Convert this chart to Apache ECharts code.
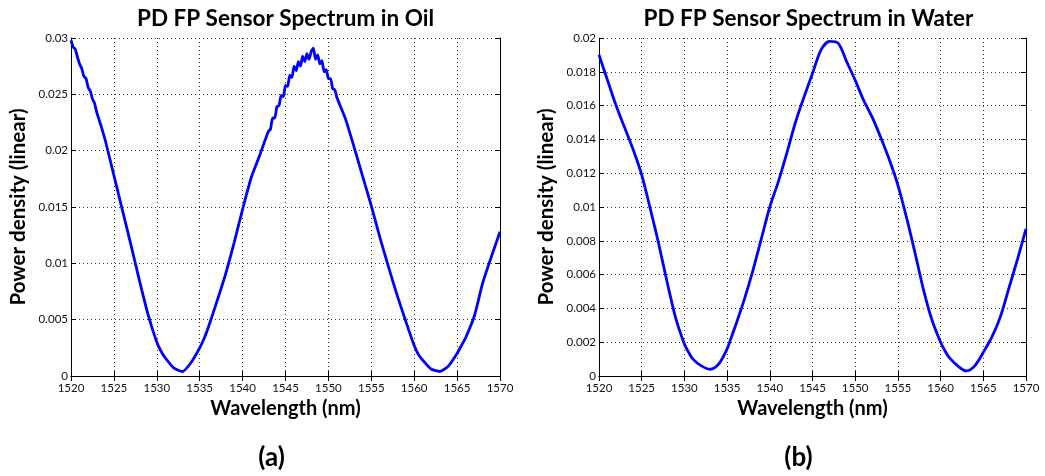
<!DOCTYPE html>
<html>
<head>
<meta charset="utf-8">
<script src="https://cdn.jsdelivr.net/npm/echarts@6.0.0/dist/echarts.min.js"></script>
<style>
html,body{margin:0;padding:0;background:#fff;}
#chart{width:1045px;height:476px;}
</style>
</head>
<body>
<div id="chart"></div>
<script>
// ---- Data ----
const titles = ["PD FP Sensor Spectrum in Oil", "PD FP Sensor Spectrum in Water"];
const panelLabels = ["(a)", "(b)"];
const xAxisName = "Wavelength (nm)";
const yAxisName = "Power density (linear)";

const xTicks = [1520, 1525, 1530, 1535, 1540, 1545, 1550, 1555, 1560, 1565, 1570];
const oilYTicks = [0, 0.005, 0.01, 0.015, 0.02, 0.025, 0.03];
const waterYTicks = [0, 0.002, 0.004, 0.006, 0.008, 0.01, 0.012, 0.014, 0.016, 0.018, 0.02];

const oilWavelength = [
  1520, 1520.25, 1520.5, 1520.75, 1521, 1521.25, 1521.5, 1521.75, 1522, 1522.25, 1522.5, 1522.75, 1523, 1523.5,
  1524, 1525, 1526, 1527, 1528, 1529, 1530, 1530.5, 1531, 1532, 1533, 1534, 1535, 1535.5, 1536,
  1537, 1538, 1539, 1540, 1541, 1542,
  1543, 1543.25, 1543.5, 1543.75, 1544, 1544.25, 1544.5, 1544.75, 1545, 1545.25, 1545.5, 1545.75,
  1546, 1546.25, 1546.5, 1546.75, 1547, 1547.25, 1547.5, 1547.75, 1548, 1548.25, 1548.5, 1548.75,
  1549, 1549.25, 1549.5, 1549.75, 1550, 1550.25, 1550.5, 1550.75, 1551,
  1552, 1553, 1554, 1555, 1556, 1557, 1558, 1559, 1560, 1560.5, 1561, 1562, 1563, 1564, 1565, 1565.5,
  1566, 1567, 1568, 1569, 1570
];
const oilPower = [
  0.0298, 0.0292, 0.0290, 0.0283, 0.0277, 0.0273, 0.0266, 0.0264, 0.0256, 0.0253, 0.0246, 0.0242, 0.0234, 0.0222,
  0.0209, 0.0178, 0.0147, 0.0116, 0.0084, 0.0054, 0.0030, 0.0022, 0.0016, 0.0007, 0.0004, 0.0012, 0.0025, 0.0033, 0.0043,
  0.0066, 0.0090, 0.0118, 0.0148, 0.0176, 0.0196,
  0.0217, 0.0219, 0.0229, 0.0229, 0.0239, 0.0240, 0.0249, 0.0248, 0.0258, 0.0257, 0.0267, 0.0265,
  0.0275, 0.0271, 0.0279, 0.0275, 0.0284, 0.0279, 0.0286, 0.0281, 0.0288, 0.0291, 0.0281, 0.0285,
  0.0277, 0.0280, 0.0270, 0.0272, 0.0264, 0.0264, 0.0255, 0.0254, 0.0247,
  0.0228, 0.0203, 0.0177, 0.0151, 0.0123, 0.0097, 0.0072, 0.0049, 0.0027, 0.0019, 0.0014, 0.0006, 0.0004, 0.0009, 0.0020, 0.0027,
  0.0034, 0.0053, 0.0083, 0.0106, 0.0128
];

const waterWavelength = [
  1520, 1521, 1522, 1523, 1524, 1525, 1526, 1527, 1528, 1529, 1530, 1530.5, 1531, 1532, 1533, 1534, 1535, 1535.5,
  1536, 1537, 1538, 1539, 1540, 1541, 1542, 1543, 1544, 1545, 1546, 1547, 1548, 1549, 1550, 1551, 1552,
  1553, 1554, 1555, 1556, 1557, 1558, 1559, 1560, 1560.5, 1561, 1562, 1563, 1564, 1565, 1566, 1567, 1568,
  1569, 1570
];
const waterPower = [
  0.0190, 0.0175, 0.0160, 0.0147, 0.0134, 0.0119, 0.0099, 0.0078, 0.0055, 0.0034, 0.0019, 0.0014, 0.0010, 0.0006, 0.0004, 0.0007, 0.0016, 0.0023,
  0.0030, 0.0045, 0.0062, 0.0081, 0.0100, 0.0115, 0.0132, 0.0150, 0.0165, 0.0179, 0.0193, 0.0198, 0.0197, 0.0186, 0.0175, 0.0163, 0.0153,
  0.0141, 0.0128, 0.0113, 0.0094, 0.0073, 0.0051, 0.0033, 0.0020, 0.0015, 0.0011, 0.0006, 0.0003, 0.0006, 0.0014, 0.0023, 0.0035, 0.0052,
  0.0069, 0.0087
];

// ---- Chart construction ----
const FONT = "Lato";
const chart = echarts.init(document.getElementById('chart'), null, {renderer: 'canvas'});

const grids = [
  {left: 71, top: 38, width: 429, height: 338},
  {left: 599, top: 38, width: 427, height: 338}
];
const yTickSets = [oilYTicks, waterYTicks];

function fmt(v) { return String(Number(v.toFixed(6))); }

const xAxes = [], yAxes = [];
grids.forEach((g, i) => {
  const xmin = xTicks[0], xmax = xTicks[xTicks.length - 1], xint = xTicks[1] - xTicks[0];
  const yt = yTickSets[i];
  const ymin = yt[0], ymax = yt[yt.length - 1], yint = yt[1] - yt[0];
  const line = {show: true, lineStyle: {color: '#000', width: 1}};
  const tick = {show: true, inside: true, length: 5, lineStyle: {color: '#000', width: 1}};
  const split = {show: true, lineStyle: {color: '#333', width: 1, type: [1, 3]}};
  xAxes.push({
    type: 'value', gridIndex: i, position: 'bottom', min: xmin, max: xmax, interval: xint,
    axisLine: line, axisTick: tick, splitLine: split,
    axisLabel: {color: '#111', fontFamily: FONT, fontSize: 11.5, margin: 6, formatter: fmt},
    name: xAxisName, nameLocation: 'middle', nameGap: 23,
    nameTextStyle: {fontFamily: FONT, fontWeight: 'bold', fontSize: 20, color: '#000'}
  });
  xAxes.push({
    type: 'value', gridIndex: i, position: 'top', min: xmin, max: xmax, interval: xint,
    axisLine: line, axisTick: tick, splitLine: {show: false}, axisLabel: {show: false}
  });
  yAxes.push({
    type: 'value', gridIndex: i, position: 'left', min: ymin, max: ymax, interval: yint,
    axisLine: line, axisTick: tick, splitLine: split,
    axisLabel: {color: '#111', fontFamily: FONT, fontSize: 11.5, margin: 3, formatter: fmt},
    name: yAxisName, nameLocation: 'middle', nameGap: 42, nameRotate: 90,
    nameTextStyle: {fontFamily: FONT, fontWeight: 'bold', fontSize: 20.5, color: '#000'}
  });
  yAxes.push({
    type: 'value', gridIndex: i, position: 'right', min: ymin, max: ymax, interval: yint,
    axisLine: line, axisTick: tick, splitLine: {show: false}, axisLabel: {show: false}
  });
});

const series = [
  {
    type: 'line', xAxisIndex: 0, yAxisIndex: 0, showSymbol: false, smooth: 0.2,
    lineStyle: {color: '#0000ff', width: 2.8}, itemStyle: {color: '#0000ff'},
    data: oilWavelength.map((w, k) => [w, oilPower[k]])
  },
  {
    type: 'line', xAxisIndex: 2, yAxisIndex: 2, showSymbol: false, smooth: 0.3,
    lineStyle: {color: '#0000ff', width: 2.8}, itemStyle: {color: '#0000ff'},
    data: waterWavelength.map((w, k) => [w, waterPower[k]])
  }
];

const graphic = [];
grids.forEach((g, i) => {
  const cx = g.left + g.width / 2;
  graphic.push({
    type: 'text', x: cx + (i === 0 ? 0 : -4), y: 19,
    style: {text: titles[i], font: 'bold 22.5px ' + FONT, fill: '#000', textAlign: 'center', textVerticalAlign: 'middle'}
  });
  graphic.push({
    type: 'text', x: cx - 14, y: 458,
    style: {text: panelLabels[i], font: 'bold 26px ' + FONT, fill: '#000', textAlign: 'center', textVerticalAlign: 'middle'}
  });
});

chart.setOption({
  animation: false,
  backgroundColor: '#fff',
  grid: grids.map(g => Object.assign({containLabel: false}, g)),
  xAxis: xAxes,
  yAxis: yAxes,
  series: series,
  graphic: graphic
});
</script>
</body>
</html>
